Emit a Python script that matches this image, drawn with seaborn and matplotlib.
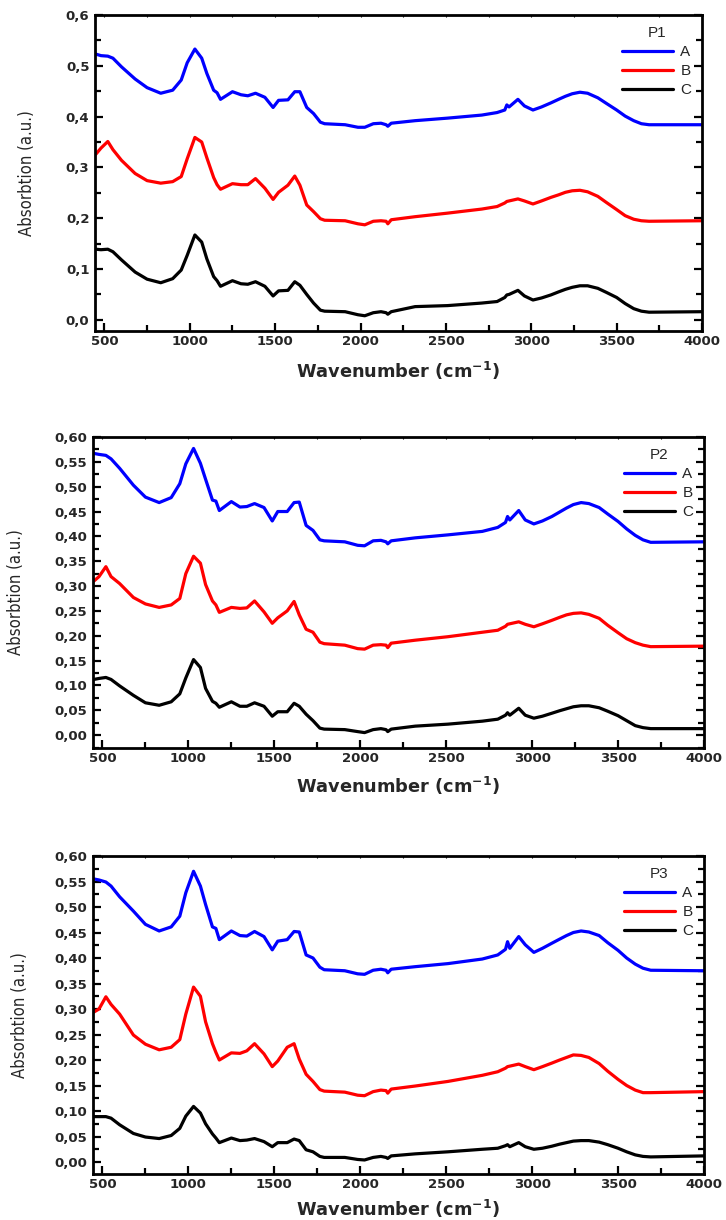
import matplotlib
matplotlib.use("Agg")
import numpy as np
import pandas as pd
import seaborn as sns
import matplotlib.pyplot as plt
from matplotlib.ticker import MultipleLocator, FuncFormatter

# ---------------- data ----------------
wavenumber = [450, 480, 520, 550, 600, 680, 750, 830, 900, 950, 985, 1030,
              1070, 1100, 1140, 1160, 1180, 1250, 1300, 1340, 1385, 1440, 1488, 1520,
              1575, 1615, 1645, 1685, 1725, 1765, 1790, 1910, 1985, 2025, 2075, 2120,
              2150, 2160, 2180, 2320, 2510, 2710, 2800, 2845, 2857, 2870, 2922, 2960,
              3010, 3060, 3115, 3160, 3200, 3240, 3285, 3330, 3390, 3440, 3500, 3550,
              3600, 3645, 3690, 4000]

p1_A = [0.523, 0.520, 0.519, 0.515, 0.498, 0.474, 0.457, 0.446, 0.452, 0.472, 0.506, 0.533,
        0.515, 0.485, 0.452, 0.447, 0.434, 0.449, 0.443, 0.441, 0.446, 0.438, 0.418, 0.432,
        0.433, 0.449, 0.449, 0.418, 0.406, 0.389, 0.386, 0.384, 0.379, 0.379, 0.386, 0.387,
        0.384, 0.381, 0.387, 0.392, 0.397, 0.403, 0.408, 0.413, 0.423, 0.419, 0.434, 0.421,
        0.413, 0.419, 0.427, 0.434, 0.440, 0.445, 0.448, 0.446, 0.437, 0.426, 0.413, 0.401,
        0.392, 0.386, 0.384, 0.384]
p1_B = [0.326, 0.338, 0.351, 0.335, 0.314, 0.288, 0.274, 0.269, 0.272, 0.282, 0.317, 0.359,
        0.350, 0.319, 0.280, 0.266, 0.257, 0.268, 0.266, 0.266, 0.278, 0.259, 0.237, 0.251,
        0.265, 0.283, 0.265, 0.226, 0.213, 0.199, 0.196, 0.195, 0.189, 0.187, 0.194, 0.195,
        0.194, 0.189, 0.197, 0.203, 0.210, 0.218, 0.223, 0.230, 0.233, 0.234, 0.238, 0.234,
        0.228, 0.234, 0.241, 0.246, 0.251, 0.254, 0.255, 0.252, 0.243, 0.231, 0.217, 0.205,
        0.198, 0.195, 0.194, 0.195]
p1_C = [0.139, 0.138, 0.139, 0.134, 0.118, 0.094, 0.080, 0.073, 0.081, 0.098, 0.127, 0.167,
        0.153, 0.120, 0.085, 0.077, 0.066, 0.077, 0.071, 0.070, 0.075, 0.066, 0.047, 0.057,
        0.058, 0.075, 0.068, 0.050, 0.033, 0.019, 0.017, 0.016, 0.010, 0.008, 0.014, 0.016,
        0.014, 0.011, 0.016, 0.026, 0.028, 0.033, 0.036, 0.044, 0.049, 0.050, 0.058, 0.047,
        0.039, 0.043, 0.049, 0.055, 0.060, 0.064, 0.067, 0.067, 0.062, 0.054, 0.044, 0.032,
        0.022, 0.017, 0.015, 0.016]

p2_A = [0.567, 0.565, 0.563, 0.556, 0.537, 0.503, 0.479, 0.468, 0.478, 0.506, 0.546, 0.577,
        0.547, 0.515, 0.473, 0.471, 0.452, 0.470, 0.459, 0.460, 0.466, 0.458, 0.431, 0.450,
        0.450, 0.468, 0.469, 0.422, 0.412, 0.393, 0.391, 0.389, 0.382, 0.381, 0.391, 0.392,
        0.389, 0.385, 0.391, 0.397, 0.403, 0.410, 0.418, 0.428, 0.440, 0.433, 0.452, 0.433,
        0.425, 0.431, 0.440, 0.449, 0.457, 0.464, 0.468, 0.466, 0.458, 0.445, 0.430, 0.415,
        0.402, 0.393, 0.388, 0.389]
p2_B = [0.310, 0.319, 0.339, 0.319, 0.305, 0.277, 0.264, 0.257, 0.262, 0.275, 0.325, 0.360,
        0.346, 0.303, 0.270, 0.262, 0.247, 0.257, 0.255, 0.256, 0.270, 0.248, 0.225, 0.236,
        0.250, 0.269, 0.242, 0.213, 0.207, 0.187, 0.184, 0.181, 0.174, 0.173, 0.181, 0.182,
        0.181, 0.176, 0.185, 0.191, 0.198, 0.207, 0.211, 0.219, 0.223, 0.224, 0.228, 0.223,
        0.218, 0.224, 0.231, 0.237, 0.242, 0.245, 0.246, 0.243, 0.235, 0.221, 0.206, 0.194,
        0.186, 0.181, 0.178, 0.179]
p2_C = [0.112, 0.114, 0.116, 0.112, 0.099, 0.080, 0.065, 0.060, 0.067, 0.083, 0.115, 0.152,
        0.136, 0.094, 0.068, 0.064, 0.056, 0.067, 0.058, 0.058, 0.065, 0.058, 0.038, 0.047,
        0.047, 0.064, 0.058, 0.042, 0.029, 0.014, 0.012, 0.011, 0.007, 0.005, 0.011, 0.013,
        0.011, 0.007, 0.012, 0.018, 0.022, 0.028, 0.032, 0.040, 0.045, 0.040, 0.054, 0.040,
        0.034, 0.038, 0.044, 0.049, 0.053, 0.057, 0.059, 0.059, 0.055, 0.048, 0.039, 0.029,
        0.019, 0.015, 0.013, 0.013]

p3_A = [0.555, 0.553, 0.549, 0.541, 0.520, 0.492, 0.466, 0.453, 0.461, 0.482, 0.528, 0.570,
        0.541, 0.505, 0.461, 0.458, 0.436, 0.453, 0.444, 0.443, 0.452, 0.442, 0.416, 0.433,
        0.436, 0.452, 0.451, 0.406, 0.400, 0.382, 0.377, 0.375, 0.369, 0.368, 0.376, 0.378,
        0.376, 0.371, 0.378, 0.383, 0.389, 0.398, 0.406, 0.417, 0.432, 0.419, 0.442, 0.426,
        0.411, 0.419, 0.429, 0.437, 0.444, 0.450, 0.453, 0.451, 0.444, 0.430, 0.415, 0.400,
        0.388, 0.380, 0.376, 0.375]
p3_B = [0.294, 0.300, 0.324, 0.309, 0.290, 0.249, 0.231, 0.220, 0.225, 0.240, 0.290, 0.343,
        0.325, 0.275, 0.232, 0.215, 0.200, 0.214, 0.213, 0.218, 0.232, 0.212, 0.187, 0.198,
        0.225, 0.232, 0.202, 0.172, 0.158, 0.142, 0.139, 0.137, 0.131, 0.130, 0.138, 0.141,
        0.140, 0.135, 0.143, 0.149, 0.158, 0.170, 0.177, 0.184, 0.187, 0.188, 0.192, 0.187,
        0.181, 0.187, 0.194, 0.200, 0.205, 0.210, 0.209, 0.205, 0.193, 0.178, 0.162, 0.150,
        0.141, 0.136, 0.136, 0.138]
p3_C = [0.089, 0.089, 0.089, 0.086, 0.073, 0.056, 0.049, 0.046, 0.052, 0.066, 0.090, 0.109,
        0.096, 0.075, 0.055, 0.047, 0.038, 0.047, 0.042, 0.043, 0.046, 0.040, 0.030, 0.038,
        0.038, 0.045, 0.042, 0.024, 0.020, 0.011, 0.009, 0.009, 0.005, 0.004, 0.009, 0.011,
        0.009, 0.007, 0.012, 0.016, 0.020, 0.025, 0.027, 0.032, 0.034, 0.030, 0.038, 0.030,
        0.025, 0.027, 0.031, 0.035, 0.038, 0.041, 0.042, 0.042, 0.039, 0.034, 0.027, 0.020,
        0.014, 0.011, 0.010, 0.012]

panel_names = ["P1", "P2", "P3"]
panel_series = [(p1_A, p1_B, p1_C), (p2_A, p2_B, p2_C), (p3_A, p3_B, p3_C)]
sample_labels = ["A", "B", "C"]
x_ticks = [500, 1000, 1500, 2000, 2500, 3000, 3500, 4000]

# ---------------- style ----------------
sns.set_style("ticks")
plt.rcParams["font.family"] = ["DejaVu Sans"]
plt.rcParams["mathtext.fontset"] = "dejavusans"

palette = {"A": "#0000ff", "B": "#ff0000", "C": "#000000"}

fig = plt.figure(figsize=(7.26, 12.2), dpi=100)
W, H = 726.0, 1220.0
# (left, top, right, bottom) in pixels
boxes = [(95, 15, 702, 331), (93, 437, 704, 748), (93, 856, 704, 1174)]
ylims = [(-0.022, 0.6), (-0.026, 0.6), (-0.0235, 0.6)]
ymajor = [0.1, 0.05, 0.05]
yfmt = ["{:.1f}", "{:.2f}", "{:.2f}"]
ylabel_x = [-0.097, -0.112, -0.104]
xlabel_y = [-0.090, -0.088, -0.074]

for i, name in enumerate(panel_names):
    l, t, r, b = boxes[i]
    ax = fig.add_axes([l / W, 1 - b / H, (r - l) / W, (b - t) / H])
    rows = []
    for lab, vals in zip(sample_labels, panel_series[i]):
        assert len(vals) == len(wavenumber)
        for xv, yv in zip(wavenumber, vals):
            rows.append((xv, yv, lab))
    df = pd.DataFrame(rows, columns=["wavenumber", "absorbance", "sample"])
    sns.lineplot(data=df, x="wavenumber", y="absorbance", hue="sample",
                 palette=palette, linewidth=2.3, estimator=None, sort=False, ax=ax)

    ax.set_xlim(445, 4000)
    ax.set_ylim(*ylims[i])
    ax.xaxis.set_major_locator(MultipleLocator(500))
    ax.xaxis.set_minor_locator(MultipleLocator(250))
    ax.yaxis.set_major_locator(MultipleLocator(ymajor[i]))
    ax.yaxis.set_minor_locator(MultipleLocator(ymajor[i] / 2))
    fmt = yfmt[i]
    ax.yaxis.set_major_formatter(FuncFormatter(lambda v, p, f=fmt: f.format(v).replace(".", ",").replace("-", "")))
    ax.set_xticks(x_ticks)

    for sp in ax.spines.values():
        sp.set_visible(True)
        sp.set_linewidth(2.0)
        sp.set_color("black")

    ax.tick_params(which="both", direction="in", top=True, right=True, width=1.6, color="black")
    ax.tick_params(which="major", length=5.5)
    ax.tick_params(which="minor", length=4)
    ax.tick_params(axis="y", which="major", pad=4)
    ax.tick_params(axis="x", which="major", pad=3)
    for tk in ax.xaxis.get_major_ticks() + ax.xaxis.get_minor_ticks():
        tk.tick2line.set_markersize(1.5)
        tk.tick2line.set_markeredgewidth(0.8)

    for lbl in ax.get_xticklabels() + ax.get_yticklabels():
        lbl.set_fontweight("bold")
        lbl.set_fontsize(9.5)
        lbl.set_family("DejaVu Sans")

    ax.set_xlabel(r"Wavenumber (cm$^{\mathbf{-1}}$)", fontsize=12.8, fontweight="bold")
    ax.xaxis.set_label_coords(0.5, xlabel_y[i])
    ax.xaxis.label.set_verticalalignment("top")
    ax.set_ylabel("Absorbtion (a.u.)", fontsize=12,
                  family=["Liberation Sans Narrow", "DejaVu Sans"], fontstretch="condensed")
    ax.yaxis.set_label_coords(ylabel_x[i], 0.5)

    handles, labels = ax.get_legend_handles_labels()
    leg = ax.legend(handles, labels, title=name, loc="upper right", frameon=False,
                    prop={"family": "Liberation Sans", "size": 11},
                    title_fontproperties={"family": "Liberation Sans", "size": 11},
                    handlelength=3.3, handletextpad=0.5, labelspacing=0.34,
                    borderaxespad=0.5, borderpad=0.2)
    for lh in leg.get_lines():
        lh.set_linewidth(2.3)

fig.savefig("out.png", dpi=100)
